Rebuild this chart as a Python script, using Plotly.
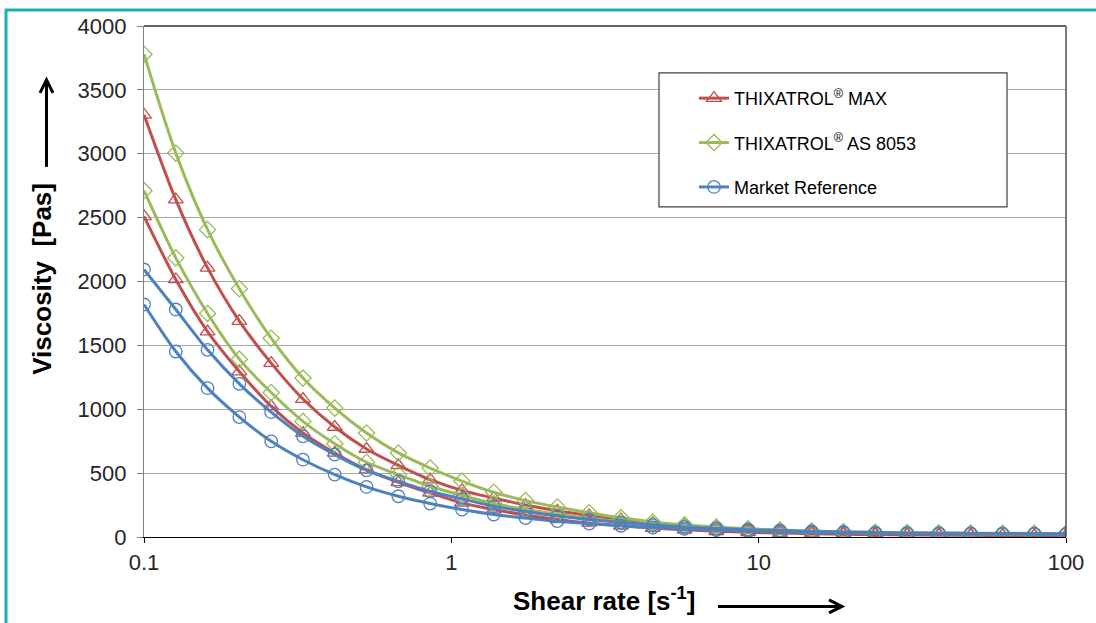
import plotly.graph_objects as go

# ---------------- data ----------------
shear_rate = [0.1, 0.1269, 0.161, 0.2043, 0.2593, 0.329, 0.4175, 0.5298, 0.6723, 0.8532,
              1.0827, 1.374, 1.7436, 2.2126, 2.8078, 3.5631, 4.5216, 5.738, 7.2814, 9.2401,
              11.726, 14.88, 18.883, 23.962, 30.408, 38.588, 48.968, 62.14, 78.86, 100.0]

max_up = [3305, 2641, 2107, 1690, 1361, 1080, 861, 689, 561, 449,
          365, 305, 250, 205, 168, 137, 110, 90, 73, 60,
          50, 42, 35, 29, 25, 21, 18, 16, 14, 13]
max_down = [2510, 2016, 1608, 1295, 1022, 814, 658, 527, 428, 345,
            267, 215, 172, 138, 110, 88, 70, 56, 45, 37,
            31, 26, 22, 19, 16, 14, 13, 12, 11, 10]

as8053_up = [3779, 3005, 2406, 1943, 1556, 1244, 1009, 814, 658, 540,
             438, 350, 285, 235, 190, 150, 118, 95, 78, 64,
             54, 46, 41, 37, 34, 32, 30, 29, 28, 27]
as8053_down = [2711, 2185, 1750, 1392, 1131, 905, 730, 585, 488, 397,
               325, 262, 215, 178, 145, 118, 96, 80, 66, 55,
               47, 40, 35, 31, 28, 26, 24, 23, 22, 21]

ref_up = [2094, 1781, 1465, 1199, 977, 788, 645, 522, 436, 358,
          298, 241, 200, 165, 137, 113, 94, 79, 67, 57,
          50, 44, 39, 35, 32, 30, 28, 27, 26, 25]
ref_down = [1820, 1452, 1165, 939, 749, 605, 488, 392, 319, 262,
            215, 176, 148, 124, 105, 88, 74, 63, 54, 47,
            41, 36, 32, 29, 27, 25, 24, 23, 22, 21]

series_names = ["THIXATROL<sup>®</sup> MAX", "THIXATROL<sup>®</sup> AS 8053", "Market Reference"]
x_tick_vals = [0.1, 1, 10, 100]
x_tick_text = ["0.1", "1", "10", "100"]
y_tick_vals = [0, 500, 1000, 1500, 2000, 2500, 3000, 3500, 4000]

# ---------------- styling ----------------
W, H = 1096, 623
ML, MR, MT, MB = 144, 30, 26, 85.5
PW, PH = W - ML - MR, H - MT - MB
FONT = "Liberation Sans, Arial, sans-serif"

def px(x):
    return (x - ML) / PW

def py(y):
    return (H - MB - y) / PH

RED, GREEN, BLUE = "#C0504D", "#9BBB59", "#4F81BD"
styles = [
    (RED, "triangle-up-open", 13, [max_up, max_down]),
    (GREEN, "diamond-open", 12.5, [as8053_up, as8053_down]),
    (BLUE, "circle-open", 12.5, [ref_up, ref_down]),
]

fig = go.Figure()
for name, (col, sym, size, curves) in zip(series_names, styles):
    for k, vals in enumerate(curves):
        fig.add_trace(go.Scatter(
            x=shear_rate, y=vals, name=name, legendgroup=name,
            showlegend=(k == 0), mode="lines+markers",
            line=dict(color=col, width=3, shape="spline", smoothing=0.8),
            marker=dict(symbol=sym, size=size, color=col,
                        line=dict(color=col, width=1.3)),
        ))

shapes = []
# teal frame (top and left visible)
shapes.append(dict(type="rect", xref="paper", yref="paper",
                   x0=px(6), x1=px(W + 20), y0=py(H + 20), y1=py(10),
                   line=dict(color="#1BB2AC", width=3), fillcolor="rgba(0,0,0,0)",
                   layer="below"))
# plot area border top & right
shapes.append(dict(type="line", xref="paper", yref="paper", x0=0, x1=1, y0=1, y1=1,
                   line=dict(color="#333333", width=1.3)))
shapes.append(dict(type="line", xref="paper", yref="paper", x0=1, x1=1, y0=0, y1=1,
                   line=dict(color="#333333", width=1.3)))
# legend box
shapes.append(dict(type="rect", xref="paper", yref="paper",
                   x0=px(659), x1=px(1007), y0=py(207), y1=py(73),
                   line=dict(color="#404040", width=1.2), fillcolor="white", layer="above"))
# x arrow
shapes.append(dict(type="line", xref="paper", yref="paper",
                   x0=px(718), x1=px(841), y0=py(607), y1=py(607),
                   line=dict(color="black", width=3)))
shapes.append(dict(type="path", xref="paper", yref="paper",
                   path=f"M {px(829)},{py(600.5)} L {px(842)},{py(607)} L {px(829)},{py(613.5)}",
                   line=dict(color="black", width=3)))
# y arrow
shapes.append(dict(type="line", xref="paper", yref="paper",
                   x0=px(46.5), x1=px(46.5), y0=py(167), y1=py(81),
                   line=dict(color="black", width=3)))
shapes.append(dict(type="path", xref="paper", yref="paper",
                   path=f"M {px(40)},{py(93)} L {px(46.5)},{py(80)} L {px(53)},{py(93)}",
                   line=dict(color="black", width=3)))

annotations = [
    dict(text="<b>Shear rate [s<sup>-1</sup>]</b>", xref="paper", yref="paper",
         x=px(604), y=py(600), showarrow=False, xanchor="center", yanchor="middle",
         font=dict(family=FONT, size=26, color="black")),
    dict(text="<b>Viscosity  [Pas]</b>", xref="paper", yref="paper",
         x=px(42), y=py(279), showarrow=False, xanchor="center", yanchor="middle",
         textangle=-90, font=dict(family=FONT, size=26, color="black")),
]

fig.update_layout(
    width=W, height=H,
    margin=dict(l=ML, r=MR, t=MT, b=MB, pad=0),
    paper_bgcolor="white", plot_bgcolor="white",
    font=dict(family=FONT, size=22, color="#262626"),
    shapes=shapes, annotations=annotations,
    showlegend=True,
    legend=dict(x=px(694), y=py(80), xanchor="left", yanchor="top",
                bgcolor="rgba(0,0,0,0)", borderwidth=0,
                font=dict(family=FONT, size=18, color="black"),
                traceorder="grouped", tracegroupgap=18, itemwidth=30),
    xaxis=dict(type="log", range=[-1, 2], tickvals=x_tick_vals, ticktext=x_tick_text,
               showgrid=False, zeroline=False, showline=True, linecolor="black", linewidth=1.3,
               ticks="outside", ticklen=5, tickcolor="black",
               tickfont=dict(family=FONT, size=22, color="#262626")),
    yaxis=dict(range=[0, 4000], tickvals=y_tick_vals, showgrid=True, gridcolor="#ABABAB",
               gridwidth=1, zeroline=False, showline=True, linecolor="#808080", linewidth=1.3,
               ticks="outside", ticklen=6, tickcolor="#808080", ticklabelstandoff=6,
               tickfont=dict(family=FONT, size=22, color="#262626")),
)

fig.write_html("out.html", config={"displayModeBar": False},
               post_script="document.body.style.margin='0px';document.body.style.overflow='hidden';")
